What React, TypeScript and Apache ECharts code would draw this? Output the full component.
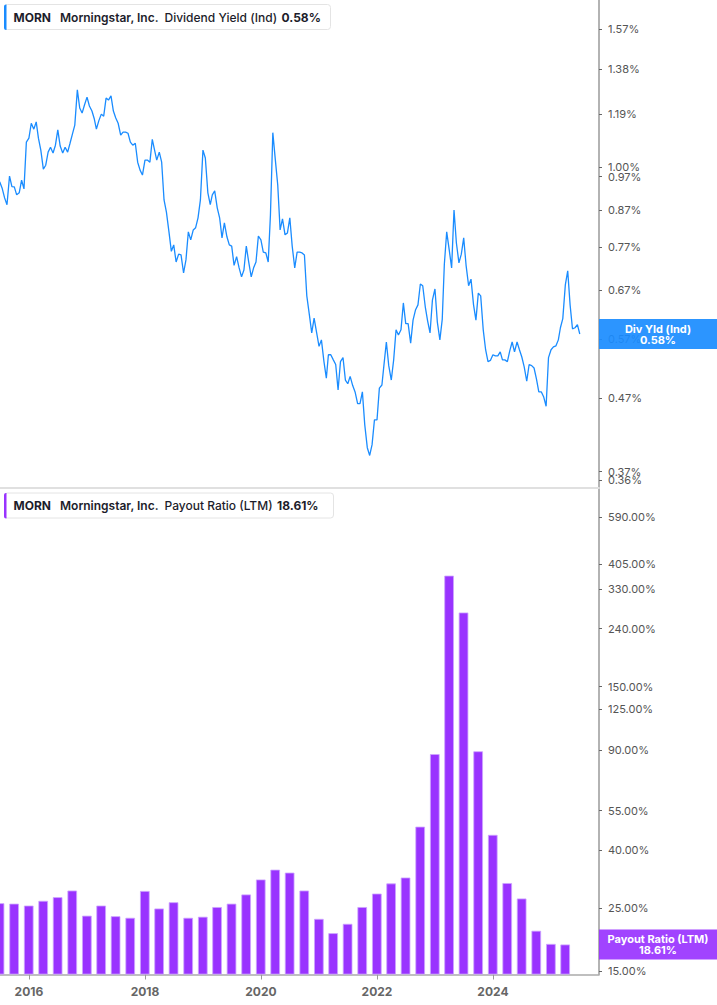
import { useEffect, useRef } from 'react';
import * as echarts from 'echarts';

// dividend yield (%), read twice a month (1st and 16th)
const yield2015 = [0.954, 0.935, 0.905, 0.885, 0.972, 0.939, 0.938, 0.914, 0.92, 0.959, 0.932, 1.086]; // from July
const yield2016 = [1.1, 1.155, 1.133, 1.16, 1.1, 1.058, 0.994, 1.007, 1.051, 1.068, 1.048, 1.075, 1.13, 1.072, 1.048, 1.068, 1.051, 1.082, 1.115, 1.148, 1.288, 1.214, 1.194, 1.226];
const yield2017 = [1.258, 1.222, 1.202, 1.171, 1.133, 1.164, 1.19, 1.182, 1.254, 1.246, 1.263, 1.202, 1.175, 1.155, 1.111, 1.122, 1.122, 1.118, 1.086, 1.075, 1.082, 1.017, 0.991, 0.975];
const yield2018 = [1.024, 1.024, 1.017, 1.096, 1.061, 1.024, 1.051, 1.017, 0.899, 0.864, 0.81, 0.76, 0.776, 0.734, 0.753, 0.751, 0.708, 0.739, 0.81, 0.789, 0.815, 0.821, 0.848, 0.899];
const yield2019 = [1.058, 1.031, 0.92, 0.885, 0.914, 0.926, 0.876, 0.848, 0.794, 0.834, 0.797, 0.776, 0.773, 0.726, 0.747, 0.721, 0.699, 0.715, 0.773, 0.734, 0.699, 0.72, 0.734, 0.799];
const yield2020 = [0.789, 0.758, 0.756, 0.734, 0.856, 1.12, 1.024, 0.944, 0.815, 0.845, 0.802, 0.807, 0.848, 0.773, 0.72, 0.758, 0.758, 0.756, 0.751, 0.657, 0.618, 0.582, 0.611, 0.584];
const yield2021 = [0.557, 0.569, 0.53, 0.502, 0.542, 0.542, 0.533, 0.525, 0.483, 0.53, 0.537, 0.499, 0.493, 0.505, 0.49, 0.48, 0.462, 0.462, 0.48, 0.431, 0.4, 0.39, 0.404, 0.438];
const yield2022 = [0.438, 0.486, 0.491, 0.53, 0.565, 0.523, 0.499, 0.533, 0.588, 0.578, 0.588, 0.642, 0.6, 0.6, 0.563, 0.607, 0.628, 0.638, 0.683, 0.679, 0.634, 0.605, 0.582, 0.648];
const yield2023 = [0.672, 0.603, 0.569, 0.609, 0.728, 0.81, 0.763, 0.72, 0.87, 0.781, 0.732, 0.753, 0.794, 0.726, 0.679, 0.694, 0.638, 0.607, 0.663, 0.657, 0.588, 0.551, 0.53, 0.532];
const yield2024 = [0.542, 0.54, 0.54, 0.547, 0.533, 0.533, 0.53, 0.549, 0.565, 0.547, 0.565, 0.551, 0.538, 0.521, 0.497, 0.525, 0.523, 0.519, 0.501, 0.48, 0.48, 0.472, 0.458, 0.537];
const yield2025 = [0.551, 0.556, 0.558, 0.569, 0.592, 0.61, 0.681, 0.713, 0.638, 0.59, 0.592, 0.598, 0.58];

const yieldYears: [number, number, number[]][] = [
  [2015, 6, yield2015],
  [2016, 0, yield2016],
  [2017, 0, yield2017],
  [2018, 0, yield2018],
  [2019, 0, yield2019],
  [2020, 0, yield2020],
  [2021, 0, yield2021],
  [2022, 0, yield2022],
  [2023, 0, yield2023],
  [2024, 0, yield2024],
  [2025, 0, yield2025],
];

// payout ratio LTM (%), quarterly
const payoutDates = [
  '2015-06-30', '2015-09-30', '2015-12-31',
  '2016-03-31', '2016-06-30', '2016-09-30', '2016-12-31',
  '2017-03-31', '2017-06-30', '2017-09-30', '2017-12-31',
  '2018-03-31', '2018-06-30', '2018-09-30', '2018-12-31',
  '2019-03-31', '2019-06-30', '2019-09-30', '2019-12-31',
  '2020-03-31', '2020-06-30', '2020-09-30', '2020-12-31',
  '2021-03-31', '2021-06-30', '2021-09-30', '2021-12-31',
  '2022-03-31', '2022-06-30', '2022-09-30', '2022-12-31',
  '2023-03-31', '2023-06-30', '2023-09-30', '2023-12-31',
  '2024-03-31', '2024-06-30', '2024-09-30', '2024-12-31',
  '2025-03-31',
];
const payoutValues = [
  26.0, 25.9, 25.5,
  26.5, 27.3, 28.8, 23.5,
  25.5, 23.4, 23.1, 28.7,
  24.9, 26.2, 23.1, 23.3,
  25.2, 25.9, 27.9, 31.5,
  34.1, 33.3, 28.8, 22.9,
  20.4, 22.0, 25.2, 28.1,
  30.5, 32.0, 48.3, 86.9,
  368.3, 273.3, 88.9, 45.2,
  30.6, 27.0, 20.8, 18.7,
  18.61,
];

const yieldTicks = [1.57, 1.38, 1.19, 1.0, 0.97, 0.87, 0.77, 0.67, 0.57, 0.47, 0.36];
const yieldTicksExtra = [0.37]; // sits too close to 0.36 for one axis to keep both
const payoutTicks = [590, 405, 330, 240, 150, 125, 90, 55, 40, 25, 15];
const yearTicks = ['2016-01-01', '2018-01-01', '2020-01-01', '2022-01-01', '2024-01-01'];

const X_MIN = Date.UTC(2015, 6, 3);
const X_MAX = Date.UTC(2025, 9, 30);

const BLUE = '#1a8cff';
const PURPLE = '#9933ff';
const FONT = 'Inter, Roboto, sans-serif';

const toTs = (s: string) => {
  const [y, m, d] = s.split('-').map(Number);
  return Date.UTC(y, m - 1, d);
};

const yieldData: [number, number][] = [];
yieldYears.forEach(([year, startMonth, vals]) => {
  vals.forEach((v, i) => {
    yieldData.push([Date.UTC(year, startMonth + Math.floor(i / 2), i % 2 ? 16 : 1), v]);
  });
});
const payoutData = payoutDates.map((d, i) => [toTs(d), payoutValues[i]]);

const legendBox = (top: number, width: number, color: string, metric: string, value: string, valueX: number) => ({
  type: 'group',
  left: 4,
  top,
  children: [
    { type: 'rect', shape: { x: 0.5, y: 0.5, width, height: 25, r: 3 }, style: { fill: '#fff', stroke: '#e4e4e4', lineWidth: 1 } },
    { type: 'rect', shape: { x: 0, y: 0.5, width: 2.5, height: 25.5, r: [2, 0, 0, 2] }, style: { fill: color } },
    { type: 'text', x: 9.5, y: 13, style: { text: 'MORN', fill: '#1d1d2b', fontSize: 12, fontWeight: 700, fontFamily: FONT, verticalAlign: 'middle' } },
    { type: 'text', x: 56, y: 13, style: { text: 'Morningstar, Inc.', fill: '#1d1d2b', fontSize: 12, fontWeight: 600, fontFamily: FONT, verticalAlign: 'middle' } },
    { type: 'text', x: 160.5, y: 13, style: { text: metric, fill: '#1d1d2b', fontSize: 12, fontWeight: 500, fontFamily: FONT, verticalAlign: 'middle' } },
    { type: 'text', x: valueX, y: 13, style: { text: value, fill: '#1d1d2b', fontSize: 12, fontWeight: 700, fontFamily: FONT, verticalAlign: 'middle' } },
  ],
});

const badge = (y: number, color: string, text: string) => ({
  type: 'group',
  children: [
    { type: 'rect', shape: { x: 599, y: y - 15, width: 118, height: 30 }, style: { fill: color, opacity: 0.92 }, z: 10 },
    {
      type: 'text',
      x: 658,
      y,
      z: 11,
      style: { text, fill: '#fff', fontSize: 11, fontWeight: 700, fontFamily: FONT, align: 'center', verticalAlign: 'middle', lineHeight: 11 },
    },
  ],
});

const App = () => {
  const chartRef = useRef<HTMLDivElement>(null);

  useEffect(() => {
    document.body.style.margin = '0';
    const chart = echarts.init(chartRef.current!, null, { renderer: 'svg' });

    const valueAxis = (grid: number, min: number, max: number, ticks: number[], showLine = true) => ({
      type: 'log',
      gridIndex: grid,
      position: 'right',
      min,
      max,
      startValue: min,
      axisLine: { show: showLine, lineStyle: { color: '#9a9a9a', width: 1.5 } },
      axisTick: { show: true, length: 3, customValues: ticks, lineStyle: { color: '#666' } },
      axisLabel: {
        customValues: ticks,
        formatter: (v: number) => v.toFixed(2) + '%',
        color: '#555',
        fontSize: 11,
        fontFamily: FONT,
        margin: 9,
        showMinLabel: true,
        showMaxLabel: true,
      },
      splitLine: { show: false },
    });

    const hiddenX = (grid: number) => ({
      type: 'value',
      gridIndex: grid,
      min: X_MIN,
      max: X_MAX,
      axisLine: { show: false },
      axisTick: { show: false },
      axisLabel: { show: false },
      splitLine: { show: false },
    });

    chart.setOption({
      animation: false,
      textStyle: { fontFamily: FONT },
      grid: [
        { left: 0, right: 118, top: 0, height: 487.5 },
        { left: 0, right: 118, top: 488, height: 486.5 },
        { left: 0, right: 118, top: 0, height: 487.5 },
      ],
      xAxis: [
        {
          type: 'value',
          gridIndex: 0,
          min: X_MIN,
          max: X_MAX,
          axisLine: { lineStyle: { color: '#e0e0e0', width: 2 } },
          axisTick: { show: false },
          axisLabel: { show: false },
          splitLine: { show: false },
        },
        {
          type: 'value',
          gridIndex: 1,
          min: X_MIN,
          max: X_MAX,
          axisLine: { lineStyle: { color: '#aaaaaa', width: 1.5 } },
          axisTick: { show: true, length: 5, customValues: yearTicks.map(toTs), lineStyle: { color: '#999' } },
          axisLabel: {
            customValues: yearTicks.map(toTs),
            formatter: (v: number) => String(new Date(v).getUTCFullYear()),
            color: '#666',
            fontWeight: 'bold',
            fontSize: 12,
            fontFamily: FONT,
            margin: 11,
          },
          splitLine: { show: false },
        },
        hiddenX(2),
      ],
      yAxis: [
        valueAxis(0, 0.3512, 1.728, yieldTicks),
        valueAxis(1, 14.6, 748.7, payoutTicks),
        valueAxis(2, 0.3512, 1.728, yieldTicksExtra, false),
      ],
      series: [
        {
          type: 'line',
          xAxisIndex: 0,
          yAxisIndex: 0,
          data: yieldData,
          showSymbol: false,
          lineStyle: { color: BLUE, width: 1.3 },
          itemStyle: { color: BLUE },
        },
        {
          type: 'bar',
          xAxisIndex: 1,
          yAxisIndex: 1,
          data: payoutData,
          barWidth: 9.6,
          itemStyle: { color: PURPLE, borderColor: '#cda4ff', borderWidth: 0.8 },
        },
      ],
    });

    const lastYield = yieldData[yieldData.length - 1][1];
    const lastPayout = payoutValues[payoutValues.length - 1];
    const yDiv = chart.convertToPixel({ yAxisIndex: 0 }, lastYield) as number;
    const yPay = chart.convertToPixel({ yAxisIndex: 1 }, lastPayout) as number;

    chart.setOption({
      graphic: [
        legendBox(4, 326, BLUE, 'Dividend Yield (Ind)', lastYield.toFixed(2) + '%', 277.5),
        legendBox(492.5, 329, PURPLE, 'Payout Ratio (LTM)', lastPayout.toFixed(2) + '%', 273),
        badge(yDiv, BLUE, 'Div Yld (Ind)\n' + lastYield.toFixed(2) + '%'),
        badge(yPay, PURPLE, 'Payout Ratio (LTM)\n' + lastPayout.toFixed(2) + '%'),
      ],
    });

    return () => {
      chart.dispose();
    };
  }, []);

  return <div ref={chartRef} style={{ position: 'absolute', left: 0, top: 0, width: 717, height: 1005 }} />;
};

export default App;
